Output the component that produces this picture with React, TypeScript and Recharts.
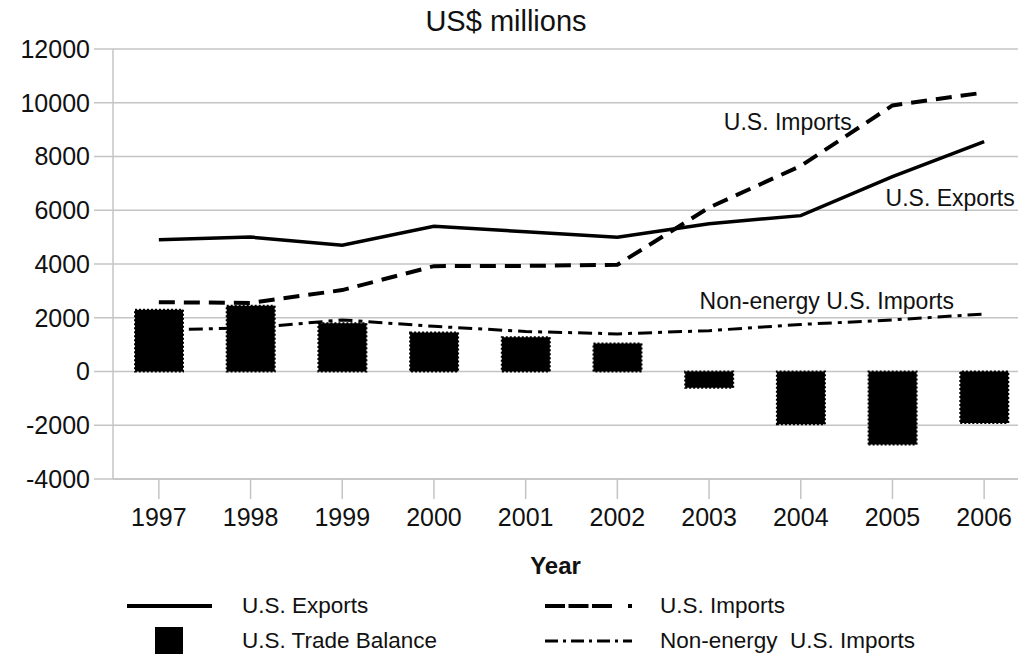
import React from 'react';
import { ComposedChart, Bar, Line, XAxis, YAxis, CartesianGrid, ReferenceDot } from 'recharts';

const years = ['1997', '1998', '1999', '2000', '2001', '2002', '2003', '2004', '2005', '2006'];
const exportsUS = [4900, 5000, 4700, 5400, 5200, 5000, 5500, 5800, 7250, 8550];
const importsUS = [2580, 2550, 3030, 3920, 3930, 3970, 6100, 7650, 9900, 10380];
const nonEnergyImports = [1550, 1620, 1920, 1680, 1490, 1400, 1520, 1750, 1920, 2140];
const tradeBalance = [2300, 2450, 1800, 1450, 1270, 1040, -600, -1960, -2720, -1920];
const yTicks = [-4000, -2000, 0, 2000, 4000, 6000, 8000, 10000, 12000];

const annotationText = ['U.S. Imports', 'U.S. Exports', 'Non-energy U.S. Imports'];
const annotationYear = ['2004', '2006', '2004'];
const annotationValue = [9300, 6470, 2640];
const annotationShift = [-13, -34, 26];

const FONT = 'Arial, "Liberation Sans", sans-serif';
const GRID = '#c4c4c4';
const INK = '#111';

const data = years.map((year, i) => ({
  year,
  exports: exportsUS[i],
  imports: importsUS[i],
  nonEnergy: nonEnergyImports[i],
  balance: tradeBalance[i],
}));

const AnnoLabel = (props: any) => {
  const vb = props.viewBox || {};
  const fs = 23;
  return (
    <text x={vb.x + props.shift} y={vb.y + 0.355 * fs} textAnchor="middle" fontSize={fs} fill={INK} fontFamily={FONT}>
      {props.text}
    </text>
  );
};

const YearLabel = (props: any) => {
  const vb = props.viewBox || {};
  return (
    <text x={vb.x + vb.width / 2 - 16} y={vb.y + 95} textAnchor="middle" fontSize={24} fontWeight="bold" fill={INK} fontFamily={FONT}>
      Year
    </text>
  );
};

export default function App() {
  return (
    <div style={{ position: 'absolute', left: 0, top: 0, width: 1018, height: 654, overflow: 'hidden', background: '#fff', fontFamily: FONT }}>
      <div style={{ position: 'absolute', left: 0, top: 5, width: 1012, textAlign: 'center', fontSize: 29, lineHeight: '32px', color: INK }}>
        US$ millions
      </div>
      <div style={{ position: 'absolute', left: 0, top: 0 }}>
        <ComposedChart width={1040} height={654} data={data} margin={{ top: 49, right: 10, left: 0, bottom: 0 }}>
          <CartesianGrid vertical={false} stroke={GRID} strokeWidth={1.5} />
          <XAxis
            dataKey="year"
            height={175}
            tickSize={20}
            tickMargin={9}
            tick={{ fontSize: 25, fill: INK, fontFamily: FONT }}
            axisLine={{ stroke: GRID, strokeWidth: 1.5 }}
            tickLine={{ stroke: GRID, strokeWidth: 1.5 }}
            interval={0}
            label={<YearLabel />}
          />
          <YAxis
            width={113}
            domain={[-4000, 12000]}
            ticks={yTicks}
            interval={0}
            tickSize={19}
            tickMargin={4}
            tick={{ fontSize: 25, fill: INK, fontFamily: FONT }}
            axisLine={{ stroke: GRID, strokeWidth: 1.5 }}
            tickLine={{ stroke: GRID, strokeWidth: 1.5 }}
          />
          <Bar dataKey="balance" fill="#000" stroke="#000" strokeWidth={2} strokeDasharray="2 2" barSize={48} isAnimationActive={false} />
          <Line dataKey="exports" type="linear" stroke="#000" strokeWidth={3.5} dot={false} activeDot={false} isAnimationActive={false} />
          <Line dataKey="imports" type="linear" stroke="#000" strokeWidth={4} strokeDasharray="16 9" dot={false} activeDot={false} isAnimationActive={false} />
          <Line dataKey="nonEnergy" type="linear" stroke="#000" strokeWidth={3} strokeDasharray="14 6 4 6" dot={false} activeDot={false} isAnimationActive={false} />
          {annotationText.map((t, i) => (
            <ReferenceDot
              key={t}
              x={annotationYear[i]}
              y={annotationValue[i]}
              r={0}
              fill="none"
              stroke="none"
              label={<AnnoLabel text={t} shift={annotationShift[i]} />}
            />
          ))}
        </ComposedChart>
      </div>
      <svg style={{ position: 'absolute', left: 0, top: 585 }} width={1018} height={69} fontFamily={FONT}>
        <line x1={127} y1={21} x2={212} y2={21} stroke="#000" strokeWidth={4} />
        <text x={242} y={28} fontSize={22.5} fill={INK}>U.S. Exports</text>
        <line x1={545} y1={21} x2={632} y2={21} stroke="#000" strokeWidth={4} strokeDasharray="20 3.5 20 3.5 20 16 4 100" />
        <text x={660} y={28} fontSize={22.5} fill={INK}>U.S. Imports</text>
        <rect x={155} y={42} width={28} height={28} fill="#000" />
        <text x={242} y={63} fontSize={22.5} fill={INK}>U.S. Trade Balance</text>
        <line x1={545} y1={56} x2={632} y2={56} stroke="#000" strokeWidth={3} strokeDasharray="13 5 3 5" />
        <text x={660} y={63} fontSize={22.5} fill={INK} style={{ whiteSpace: 'pre' }}>{'Non-energy  U.S. Imports'}</text>
      </svg>
    </div>
  );
}
